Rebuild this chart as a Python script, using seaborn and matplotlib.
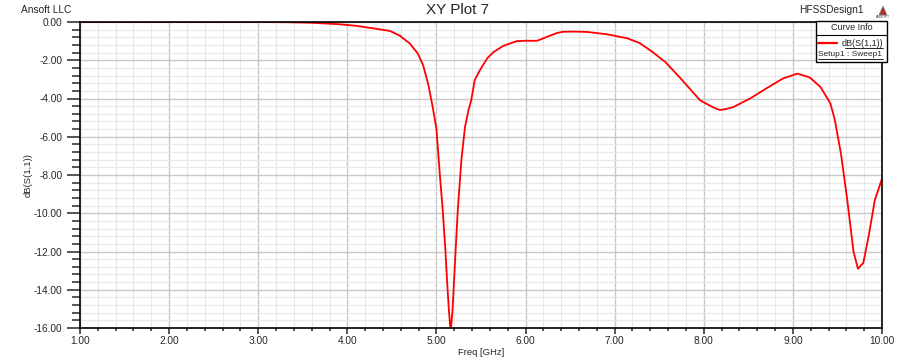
import numpy as np
import pandas as pd
import seaborn as sns
import matplotlib.pyplot as plt
from matplotlib.ticker import MultipleLocator, FormatStrFormatter
from matplotlib.patches import Rectangle, Polygon
from matplotlib.lines import Line2D

# --- data (Freq in GHz, dB(S(1,1))) ---
freq_ghz = [1.0, 2.0, 3.0, 3.3, 3.6, 3.92, 4.1, 4.29, 4.48, 4.59, 4.70, 4.79,
            4.85, 4.91, 4.96, 5.0, 5.04, 5.07, 5.1, 5.12, 5.14, 5.16, 5.18,
            5.21, 5.24, 5.28, 5.32, 5.36, 5.39, 5.43, 5.49, 5.57, 5.64, 5.75,
            5.90, 6.0, 6.13, 6.2, 6.35, 6.42, 6.55, 6.69, 6.91, 7.14, 7.28,
            7.42, 7.57, 7.73, 7.96, 8.1, 8.18, 8.25, 8.33, 8.52, 8.71, 8.89,
            9.05, 9.19, 9.31, 9.42, 9.47, 9.54, 9.61, 9.68, 9.73, 9.79, 9.85,
            9.92, 10.0]
s11_db = [0, 0, 0, -0.01, -0.04, -0.12, -0.2, -0.33, -0.47, -0.72, -1.12, -1.64,
          -2.25, -3.3, -4.5, -5.6, -8.1, -9.8, -11.9, -13.6, -15.1, -16.2, -15.1,
          -12.4, -9.8, -7.2, -5.5, -4.6, -4.1, -3.03, -2.5, -1.9, -1.57, -1.25,
          -1.0, -0.98, -0.98, -0.85, -0.58, -0.51, -0.5, -0.52, -0.64, -0.85, -1.1,
          -1.55, -2.1, -2.9, -4.1, -4.45, -4.6, -4.55, -4.45, -4.0, -3.45, -2.95,
          -2.7, -2.9, -3.4, -4.25, -5.1, -6.9, -9.3, -12.0, -12.9, -12.6, -11.2,
          -9.3, -8.2]
y_ticks = [0, -2, -4, -6, -8, -10, -12, -14, -16]
x_ticks = [1, 2, 3, 4, 5, 6, 7, 8, 9, 10]

df = pd.DataFrame({'freq': freq_ghz, 'db': s11_db})

sns.set_style('white')
plt.rcParams['font.family'] = ['Liberation Sans', 'DejaVu Sans']

fig = plt.figure(figsize=(9.08, 3.61), dpi=100)
ax = fig.add_axes([80 / 908, 33 / 361, 802 / 908, 306 / 361])

sns.lineplot(data=df, x='freq', y='db', ax=ax, color='#ff0000', lw=1.3,
             sort=False, estimator=None)

ax.set_xlim(1, 10)
ax.set_ylim(-16, 0)
ax.set_xticks(x_ticks)
ax.set_yticks(y_ticks)
ax.xaxis.set_minor_locator(MultipleLocator(0.2))
ax.yaxis.set_minor_locator(MultipleLocator(0.4))
ax.xaxis.set_major_formatter(FormatStrFormatter('%.2f'))
ax.yaxis.set_major_formatter(FormatStrFormatter('%.2f'))

# grid, light like the HFSS report
ax.grid(which='major', color='#c8c8c8', lw=1.0)
ax.grid(which='minor', color='#e8e8e8', lw=0.9)
ax.set_axisbelow(True)

for side in ['left', 'bottom', 'top', 'right']:
    ax.spines[side].set_color('black')
    ax.spines[side].set_linewidth(1.2)

ax.tick_params(axis='y', which='major', direction='out', length=9.5, width=1.1,
               labelsize=7.3, pad=3, left=True)
ax.tick_params(axis='y', which='minor', direction='out', length=5.5, width=1.1, left=True)
ax.tick_params(axis='x', which='major', direction='out', length=4, width=1.1,
               labelsize=7.3, pad=1.5, bottom=True)
ax.tick_params(axis='x', which='minor', direction='out', length=2.5, width=1.1, bottom=True)

ax.set_xlabel('Freq [GHz]', fontsize=6.8, labelpad=2)
ax.set_ylabel('dB(S(1,1))', fontsize=6.8, labelpad=1)

# header texts
fig.text(457 / 908, 1 - 10 / 361, 'XY Plot 7', ha='center', va='center', fontsize=11)
fig.text(21 / 908, 1 - 10 / 361, 'Ansoft LLC', ha='left', va='center', fontsize=7.3)
fig.text(864 / 908, 1 - 10 / 361, 'HFSSDesign1', ha='right', va='center', fontsize=7.3)

# small logo
fig.patches.append(Polygon([[879 / 908, 1 - 15 / 361], [887 / 908, 1 - 15 / 361],
                            [883 / 908, 1 - 6 / 361]], closed=True,
                           transform=fig.transFigure, facecolor='#b03030',
                           edgecolor='#808080', lw=0.5))
fig.text(883 / 908, 1 - 17 / 361, 'ANSOFT', ha='center', va='center', fontsize=2.5, color='#404040')

# Curve Info box
x0, x1 = 816 / 908, 887 / 908
y_top, y_bot = 1 - 21 / 361, 1 - 62 / 361
fig.patches.append(Rectangle((x0, y_bot), x1 - x0, y_top - y_bot, transform=fig.transFigure,
                             facecolor='white', edgecolor='black', lw=1.0, zorder=5))
fig.lines.append(Line2D([x0, x1], [1 - 35 / 361, 1 - 35 / 361], transform=fig.transFigure,
                        color='black', lw=0.8, zorder=6))
fig.text((x0 + x1) / 2, 1 - 28 / 361, 'Curve Info', ha='center', va='center', fontsize=6.5, zorder=7)
fig.lines.append(Line2D([818 / 908, 837 / 908], [1 - 43 / 361, 1 - 43 / 361],
                        transform=fig.transFigure, color='#ff0000', lw=1.6, zorder=6))
fig.text(883 / 908, 1 - 43 / 361, 'dB(S(1,1))', ha='right', va='center', fontsize=6.5, zorder=7)
fig.lines.append(Line2D([845 / 908, 883 / 908], [1 - 47.5 / 361, 1 - 47.5 / 361],
                        transform=fig.transFigure, color='black', lw=0.6, zorder=6))
fig.text(850.5 / 908, 1 - 54 / 361, 'Setup1 : Sweep1', ha='center', va='center', fontsize=6.0, zorder=7)
fig.lines.append(Line2D([818 / 908, 883 / 908], [1 - 59 / 361, 1 - 59 / 361],
                        transform=fig.transFigure, color='black', lw=0.6, zorder=6))

fig.savefig('out.png', dpi=100)
